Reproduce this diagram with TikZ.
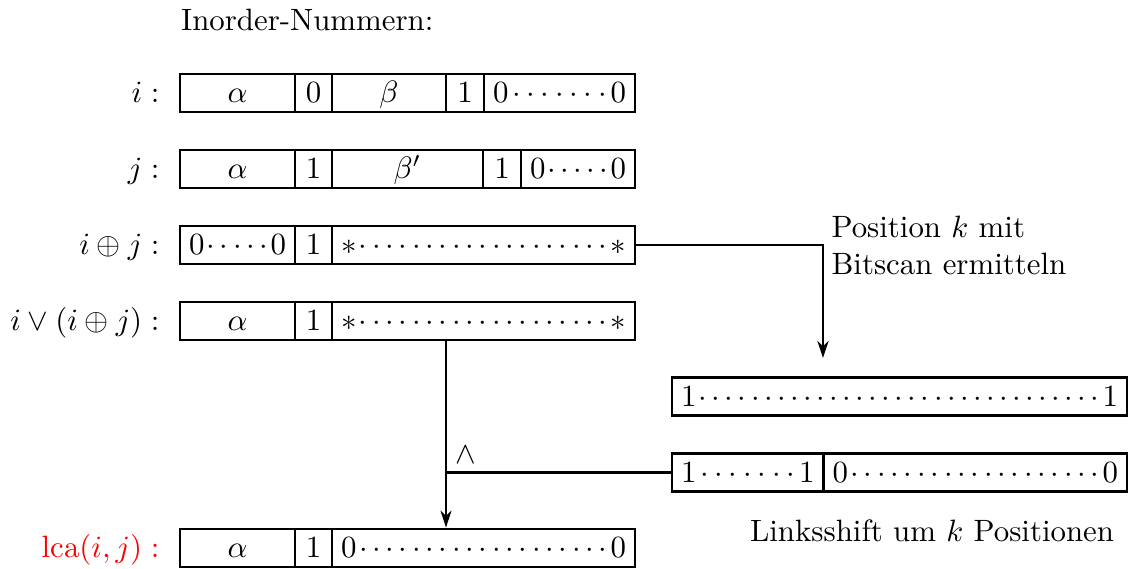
\documentclass[tikz,border=0pt]{standalone}
\usetikzlibrary{arrows.meta,positioning}
\tikzset{
  cell/.style={draw, line width=0.95pt, inner sep=0pt, minimum height={38*0.324pt}, text height=6.45pt, text depth=0pt, anchor=center},
  rowlbl/.style={inner sep=0pt, text height=6.45pt, text depth=0pt},
  conn/.style={line width=0.7pt},
  arr/.style={conn, -{Stealth[length=5.5pt,width=3.6pt,inset=1.7pt]}},
  txt/.style={inner sep=0pt},
}
\newcommand\mkcell[5]{%
  \node[cell, minimum width={(#3-#2)*0.324pt}] (#1) at ({(#2+#3)/2},{#4+19}) {#5};}
\newcommand\dotcell[6]{%
  \pgfmathsetlengthmacro\dotw{(#3-#2-18)*0.324pt}%
  \mkcell{#1}{#2}{#3}{#4}{\hbox to \dotw{$#5$\xleaders\hbox to 4.2pt{\hss$\cdot$\hss}\hfill$#6$}}}
\begin{document}
\begin{tikzpicture}[x=0.324pt, y=-0.324pt]
\useasboundingbox (0,0) rectangle (1130,568);
\node[txt, anchor=base west] (title) at (180.5,30.5) {Inorder-Nummern:};
% row i
\mkcell{a1}{180}{295}{74}{$\alpha$}
\mkcell{a2}{295}{332}{74}{$0$}
\mkcell{a3}{332}{446}{74}{$\beta$}
\mkcell{a4}{446}{484}{74}{$1$}
\dotcell{a5}{484}{635}{74}{0}{0}
% row j
\mkcell{b1}{180}{295}{150}{$\alpha$}
\mkcell{b2}{295}{332}{150}{$1$}
\mkcell{b3}{332}{483}{150}{$\beta'$}
\mkcell{b4}{483}{521}{150}{$1$}
\dotcell{b5}{521}{635}{150}{0}{0}
% row i xor j
\dotcell{c1}{180}{295}{226}{0}{0}
\mkcell{c2}{295}{332}{226}{$1$}
\dotcell{c3}{332}{635}{226}{*}{*}
% row i or (i xor j)
\mkcell{d1}{180}{295}{302}{$\alpha$}
\mkcell{d2}{295}{332}{302}{$1$}
\dotcell{d3}{332}{635}{302}{*}{*}
% row lca
\mkcell{e1}{180}{295}{529}{$\alpha$}
\mkcell{e2}{295}{332}{529}{$1$}
\dotcell{e3}{332}{635}{529}{0}{0}
% right boxes
\dotcell{r1}{672}{1127}{377.5}{1}{1}
\dotcell{r2a}{672}{823.5}{453.5}{1}{1}
\dotcell{r2b}{823.5}{1127}{453.5}{0}{0}
% row labels
\node[rowlbl, left=6pt of a1] (li) {$i:$};
\node[rowlbl, left=6pt of b1] (lj) {$j:$};
\node[rowlbl, left=6pt of c1] (lx) {$i\oplus j:$};
\node[rowlbl, left=6pt of d1] (lo) {$i\vee(i\oplus j):$};
\node[rowlbl, left=6pt of e1, red] (ll) {$\mathrm{lca}(i,j):$};
% texts
\node[txt, anchor=north west, align=left] (pos) at (831,215.6) {Position $k$ mit\\Bitscan ermitteln};
\node[txt, anchor=base west] (shift) at (749.5,541) {Linksshift um $k$ Positionen};
% connectors
\coordinate (k) at (823,358);
\draw[arr] (c3.east) -| (k);
\coordinate (vx) at (446,0);
\draw[arr] (d3.south -| vx) -- (e3.north -| vx);
\draw[conn] (r2a.west) -- (r2a.west -| vx);
\node[txt, anchor=base west] (andop) at (455,463) {$\wedge$};
\end{tikzpicture}
\end{document}
